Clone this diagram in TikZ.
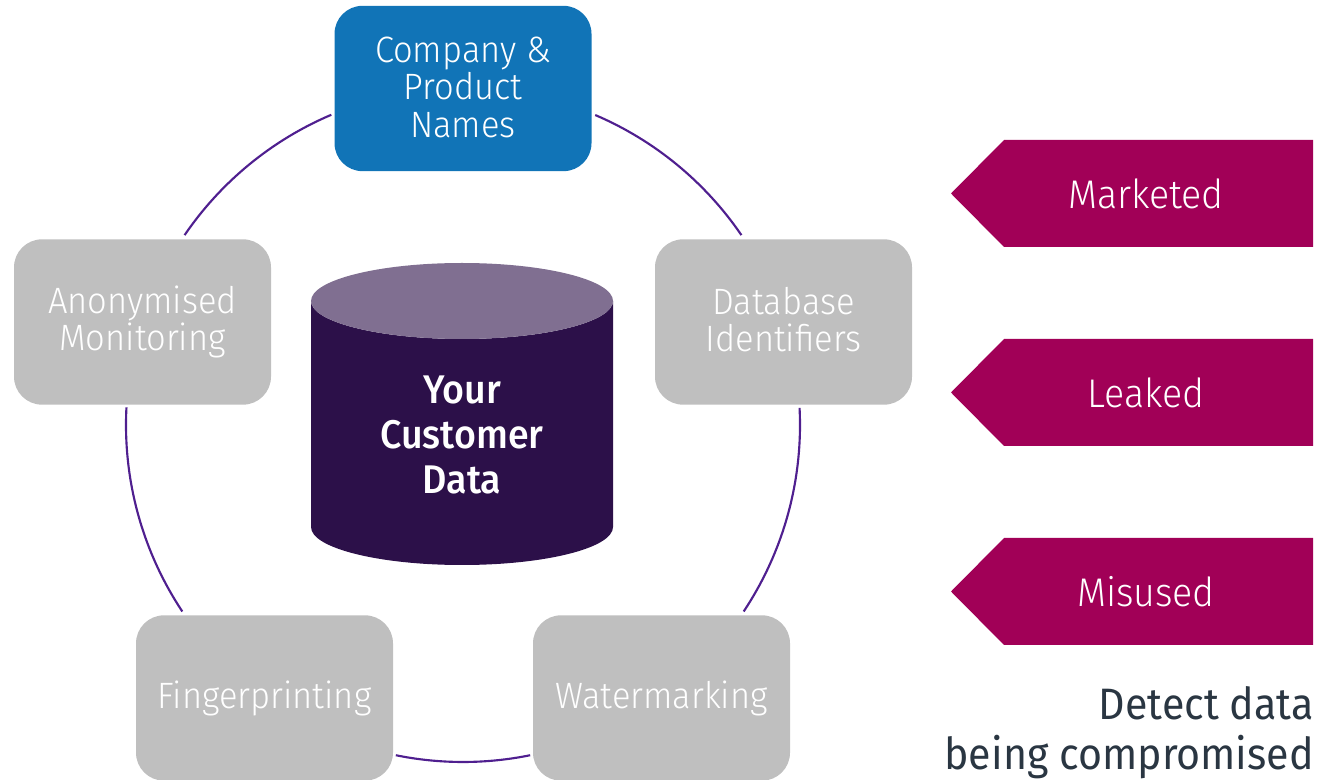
\documentclass[tikz,border=0pt]{standalone}
\usepackage{fontspec}
\usetikzlibrary{calc}
\setmainfont{Fira Sans Light}[BoldFont={Fira Sans Medium},FakeStretch=0.94]
\newfontfamily\capfont{Fira Sans}[FakeStretch=0.935]
\newcommand{\lnstrut}{\rule[-4.1pt]{0pt}{25pt}}
\definecolor{boxblue}{HTML}{1174B7}
\definecolor{boxgray}{HTML}{BFBFBF}
\definecolor{ringline}{HTML}{4F1F8F}
\definecolor{cyldark}{HTML}{2C1049}
\definecolor{cyltop}{HTML}{806F91}
\definecolor{tagred}{HTML}{A10057}
\definecolor{inkdark}{HTML}{2A3642}
\tikzset{
  x=0.75pt,y=0.75pt,
  cbox/.style={rounded corners=21pt,minimum width=192.75pt,minimum height=124pt,inner sep=0pt,outer sep=0pt,align=center,text=white,font=\fontsize{27.5}{28}\selectfont},
  ringarc/.style={draw=ringline,line width=1.6pt},
  tagtext/.style={text=white,font=\fontsize{30}{32}\selectfont,inner sep=0pt},
}
\begin{document}
\begin{tikzpicture}
\useasboundingbox (0,0) rectangle (1318,779);
\clip (0,0) rectangle (1318,779);
% ring
\coordinate (ctr) at (463,354);
\foreach \n/\a in {a/66.9,b/2.9,c/-78.5,d/-146.4,f/113}{
  \coordinate (\n) at ($(ctr)+(\a:337)$);
}
\draw[ringarc] (a) arc[start angle=66.9,end angle=34.3,radius=252.75pt];
\draw[ringarc] (b) arc[start angle=2.9,end angle=-33.6,radius=252.75pt];
\draw[ringarc] (c) arc[start angle=-78.5,end angle=-101.5,radius=252.75pt];
\draw[ringarc] (d) arc[start angle=-146.4,end angle=-183,radius=252.75pt];
\draw[ringarc] (f) arc[start angle=113,end angle=145.7,radius=252.75pt];
% boxes
\node[cbox,fill=boxblue] (company) at (463,690.5) {\lnstrut Company \&\\\lnstrut Product\\\lnstrut Names};
\node[cbox,fill=boxgray] (anon) at (142.5,457) {\lnstrut Anonymised\\\lnstrut Monitoring};
\node[cbox,fill=boxgray] (dbid) at (783.5,457) {\lnstrut Database\\\lnstrut Identifiers};
\node[cbox,fill=boxgray] (finger) at (264.5,81) {\lnstrut Fingerprinting};
\node[cbox,fill=boxgray] (water) at (661.5,81) {\lnstrut Watermarking};
% cylinder
\fill[cyldark] (311,478) arc[start angle=180,end angle=360,x radius=151,y radius=38] -- (613,252) arc[start angle=0,end angle=-180,x radius=151,y radius=38] -- cycle;
\fill[cyltop] (462,478) ellipse[x radius=151,y radius=38];
\node[text=white,align=center,font=\fontsize{30}{34}\selectfont\bfseries,inner sep=0pt] (cyl) at (462,344) {Your\\Customer\\Data};
% tags
\foreach \y/\t/\nm in {585.5/Marketed/mk,386.5/Leaked/lk,187.5/Misused/ms}{
  \fill[tagred] (951,\y) -- (1004,\y+53.5) -- (1313,\y+53.5) -- (1313,\y-53.5) -- (1004,\y-53.5) -- cycle;
  \node[tagtext] (\nm) at (1146,\y) {\t};
}
% caption
\node[text=inkdark,align=right,anchor=north east,inner sep=0pt,font=\capfont\fontsize{33}{37.5}\selectfont] (cap) at (1314,93) {Detect data\\being compromised};
\end{tikzpicture}
\end{document}
